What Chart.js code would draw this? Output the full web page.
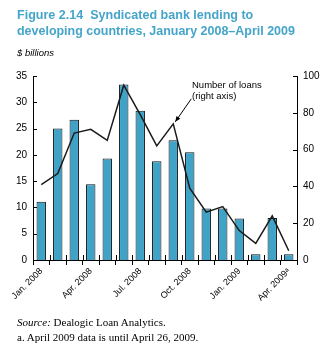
<!DOCTYPE html>
<html>
<head>
<meta charset="utf-8">
<script src="https://cdn.jsdelivr.net/npm/chart.js@4.4.1/dist/chart.umd.min.js"></script>
<style>
  html, body { margin: 0; padding: 0; background: #fff; }
  body { width: 326px; height: 358px; position: relative; overflow: hidden; font-family: "Liberation Sans", Arial, sans-serif; }
  #chart { position: absolute; left: 0; top: 0; }
  .title { position: absolute; left: 17px; color: #45a5c9; font-weight: bold; font-size: 13.5px; line-height: 16px; white-space: nowrap; transform-origin: 0 0; }
  .units { position: absolute; left: 17px; top: 47px; font-size: 9.5px; font-style: italic; }
  .note { position: absolute; left: 192px; font-size: 9.5px; line-height: 11px; white-space: nowrap; }
  .foot { position: absolute; left: 17px; font-family: "Liberation Serif", "Times New Roman", serif; font-size: 11px; white-space: nowrap; }
</style>
</head>
<body>
<canvas id="chart" width="326" height="358"></canvas>
<div class="title" id="t1" style="top:7px">Figure 2.14&nbsp; Syndicated bank lending to</div>
<div class="title" id="t2" style="top:23px">developing countries, January 2008–April 2009</div>
<div class="units">$ billions</div>
<div class="note" style="top:79px">Number of loans<br>(right axis)</div>
<div class="foot" style="top:316px"><i>Source:</i> Dealogic Loan Analytics.</div>
<div class="foot" style="top:331px">a. April 2009 data is until April 26, 2009.</div>
<script>
// squeeze title lines to the reference width (condensed face)
[['t1', 236], ['t2', 278]].forEach(([id, w]) => {
    const el = document.getElementById(id);
    el.style.transform = `scaleX(${w / el.offsetWidth})`;
});

// ---- data ----
const months = ['Jan. 2008', 'Feb. 2008', 'Mar. 2008', 'Apr. 2008', 'May 2008', 'Jun. 2008',
                'Jul. 2008', 'Aug. 2008', 'Sep. 2008', 'Oct. 2008', 'Nov. 2008', 'Dec. 2008',
                'Jan. 2009', 'Feb. 2009', 'Mar. 2009', 'Apr. 2009ᵃ'];
const shownLabels = ['Jan. 2008', 'Apr. 2008', 'Jul. 2008', 'Oct. 2008', 'Jan. 2009', 'Apr. 2009ᵃ'];
const lending = [11.1, 25.0, 26.7, 14.4, 19.3, 33.4, 28.4, 18.8, 22.8, 20.5, 9.8, 9.8, 7.9, 1.1, 8.0, 1.1];
const loans = [41, 47, 69, 71, 65, 95, 79, 62, 74, 39, 26, 29, 16, 9, 24, 5];
const leftTicks = [0, 5, 10, 15, 20, 25, 30, 35];
const rightTicks = [0, 20, 40, 60, 80, 100];
const annotatedMonth = 'Sep. 2008';

const BLUE = '#3fa3c7';
const tickFont = { family: '"Liberation Sans", Arial, sans-serif', size: 10 };

// inner tick marks + arrow for the "Number of loans" note
const extras = {
    id: 'extras',
    afterDraw(chart) {
        const { ctx, scales: { x, y, y1 } } = chart;
        ctx.save();
        ctx.strokeStyle = '#000';
        ctx.lineWidth = 1;
        ctx.beginPath();
        // x ticks cross the axis: inner half
        for (let i = 0; i <= months.length; i++) {
            const px = Math.round(x.getPixelForValue(i - 0.5)) + 0.5;
            ctx.moveTo(px, y.bottom);
            ctx.lineTo(px, y.bottom - 5);
        }
        leftTicks.forEach(v => {
            const py = Math.round(y.getPixelForValue(v)) + 0.5;
            ctx.moveTo(x.left, py);
            ctx.lineTo(x.left + 4, py);
        });
        rightTicks.forEach(v => {
            const py = Math.round(y1.getPixelForValue(v)) + 0.5;
            ctx.moveTo(x.right, py);
            ctx.lineTo(x.right - 4, py);
        });
        ctx.stroke();

        // arrow
        const i = months.indexOf(annotatedMonth);
        const tx = x.getPixelForValue(i) + 2;
        const ty = y1.getPixelForValue(loans[i]) - 2;
        const sx = tx + 16, sy = ty - 23;
        ctx.beginPath();
        ctx.moveTo(sx, sy);
        ctx.lineTo(tx, ty);
        ctx.stroke();
        const ang = Math.atan2(ty - sy, tx - sx);
        ctx.beginPath();
        ctx.moveTo(tx, ty);
        ctx.lineTo(tx - 6 * Math.cos(ang - 0.4), ty - 6 * Math.sin(ang - 0.4));
        ctx.lineTo(tx - 6 * Math.cos(ang + 0.4), ty - 6 * Math.sin(ang + 0.4));
        ctx.closePath();
        ctx.fillStyle = '#000';
        ctx.fill();
        ctx.restore();
    }
};

new Chart(document.getElementById('chart'), {
    data: {
        labels: months,
        datasets: [
            {
                type: 'line',
                label: 'Number of loans',
                data: loans,
                yAxisID: 'y1',
                borderColor: '#1a1a1a',
                borderWidth: 1.5,
                pointRadius: 0,
                tension: 0,
                order: 0
            },
            {
                type: 'bar',
                label: 'Syndicated lending',
                data: lending,
                yAxisID: 'y',
                backgroundColor: BLUE,
                borderColor: '#111',
                borderWidth: 1,
                barPercentage: 0.57,
                categoryPercentage: 1,
                order: 1
            }
        ]
    },
    options: {
        responsive: false,
        animation: false,
        layout: { padding: { top: 76, left: 0, right: 0, bottom: 0 } },
        plugins: { legend: { display: false }, tooltip: { enabled: false } },
        scales: {
            x: {
                offset: true,
                grid: { offset: true, drawOnChartArea: false, drawTicks: true, tickLength: 5, color: '#000' },
                border: { display: true, color: '#000' },
                ticks: {
                    autoSkip: false,
                    minRotation: 45,
                    maxRotation: 45,
                    padding: 1,
                    color: '#000',
                    font: { family: tickFont.family, size: 9 },
                    callback: (v, i) => shownLabels.includes(months[i]) ? months[i] : ''
                },
                afterFit: s => { s.height = 98; }
            },
            y: {
                position: 'left',
                min: 0,
                max: 35,
                afterBuildTicks: s => { s.ticks = leftTicks.map(v => ({ value: v })); },
                grid: { display: false, drawTicks: false },
                border: { display: true, color: '#000' },
                ticks: { color: '#000', font: tickFont, padding: 6 },
                afterFit: s => { s.width = 33; }
            },
            y1: {
                position: 'right',
                min: 0,
                max: 100,
                afterBuildTicks: s => { s.ticks = rightTicks.map(v => ({ value: v })); },
                grid: { display: false, drawTicks: false },
                border: { display: true, color: '#000' },
                ticks: { color: '#000', font: tickFont, padding: 6 },
                afterFit: s => { s.width = 29; }
            }
        }
    },
    plugins: [extras]
});
</script>
</body>
</html>
